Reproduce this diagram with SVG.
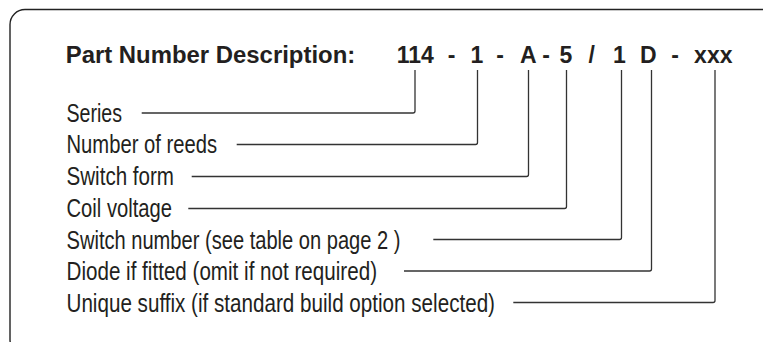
<svg xmlns="http://www.w3.org/2000/svg" width="763" height="342" viewBox="0 0 763 342">
<style>
.frame{fill:none;stroke:#222;stroke-width:1.4}
.title{font-family:"Liberation Sans",Arial,sans-serif;font-weight:bold;font-size:23px;fill:#231f20}
.pn{font-family:"Liberation Sans",Arial,sans-serif;font-weight:bold;font-size:23px;fill:#231f20;text-anchor:middle}
.lbl{font-family:"Liberation Sans",Arial,sans-serif;font-size:25px;fill:#231f20}
.conn path{fill:none;stroke:#333;stroke-width:1.3}
</style>
<rect class="frame" x="10" y="9.5" width="800" height="345" rx="15" ry="15"/>
<g id="title">
<text class="title" x="65.7" y="63" textLength="289.5" lengthAdjust="spacingAndGlyphs">Part Number Description:</text>
</g>
<g id="partnumber">
<text class="pn" y="63"><tspan x="415.3">114</tspan><tspan x="451.7">-</tspan><tspan x="477">1</tspan><tspan x="500">-</tspan><tspan x="528.3">A</tspan><tspan x="546">-</tspan><tspan x="566">5</tspan><tspan x="591.7">/</tspan><tspan x="619.3">1</tspan><tspan x="648.3">D</tspan><tspan x="675">-</tspan><tspan x="713.3">xxx</tspan></text>
</g>
<g id="series"><text class="lbl" x="66.5" y="121.5" textLength="55.5" lengthAdjust="spacingAndGlyphs">Series</text></g>
<g id="reeds"><text class="lbl" x="66.5" y="153" textLength="150.5" lengthAdjust="spacingAndGlyphs">Number of reeds</text></g>
<g id="switchform"><text class="lbl" x="66.5" y="185" textLength="107.5" lengthAdjust="spacingAndGlyphs">Switch form</text></g>
<g id="coil"><text class="lbl" x="66.5" y="217" textLength="105.5" lengthAdjust="spacingAndGlyphs">Coil voltage</text></g>
<g id="switchnumber"><text class="lbl" x="66.5" y="248.5" textLength="334" lengthAdjust="spacingAndGlyphs">Switch number (see table on page 2 )</text></g>
<g id="diode"><text class="lbl" x="66.5" y="280" textLength="310.5" lengthAdjust="spacingAndGlyphs">Diode if fitted (omit if not required)</text></g>
<g id="suffix"><text class="lbl" x="66.5" y="312" textLength="428.5" lengthAdjust="spacingAndGlyphs">Unique suffix (if standard build option selected)</text></g>
<g id="connectors" class="conn">
<path d="M141.7 113 H413 Q415 113 415 111 V70"/>
<path d="M236.7 144.5 H475.5 Q477.5 144.5 477.5 142.5 V70"/>
<path d="M191.7 176.5 H526.5 Q528.5 176.5 528.5 174.5 V70"/>
<path d="M188.3 208.5 H564.5 Q566.5 208.5 566.5 206.5 V70"/>
<path d="M433.3 239.5 H619.5 Q621.5 239.5 621.5 237.5 V70"/>
<path d="M404 271 H649.5 Q651.5 271 651.5 269 V70"/>
<path d="M513.3 302.5 H713 Q715 302.5 715 300.5 V70"/>
</g>
</svg>
